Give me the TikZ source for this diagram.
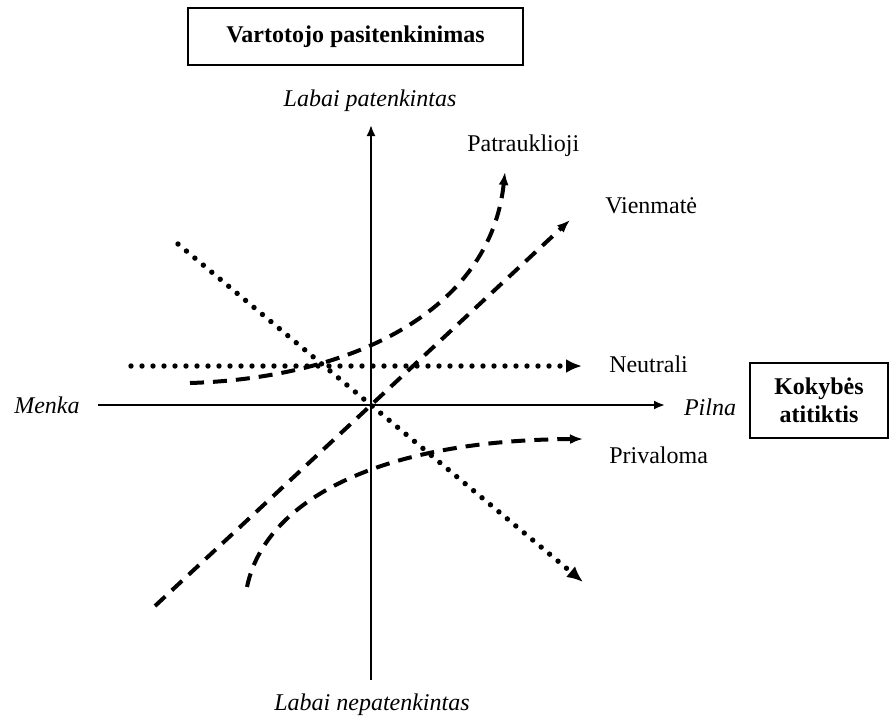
\documentclass[tikz,border=0pt]{standalone}
\usepackage{fontspec}
\setmainfont{Liberation Serif}
\usetikzlibrary{arrows.meta}

\tikzset{every picture/.style={line width=0.75pt}}
\tikzset{
  txt/.style={inner sep=0.75pt, font=\fontsize{12}{14}\selectfont},
  lbl/.style={inner sep=0.75pt, font=\fontsize{12}{14}\selectfont\itshape},
  titlebox/.style={draw, line width=1.4pt, align=center, font=\fontsize{12}{14}\selectfont\bfseries},
  axis/.style={line width=1pt, -{Latex[length=5.5pt,width=4.5pt]}},
  dashcurve/.style={line width=2pt, dash pattern=on 7pt off 4.5pt, -{Latex[length=6.5pt,width=5pt]}},
  dotcurve/.style={line width=2.7pt, line cap=round, dash pattern=on 0pt off 5.5pt, -{Latex[length=8pt,width=7pt]}},
}

\begin{document}
\begin{tikzpicture}[x=0.5pt,y=0.5pt,yscale=-1,xscale=1]
	\useasboundingbox (0,0) rectangle (891,720);

	%Shape: Axis 2D
	\coordinate (O) at (371,405);
	\coordinate (xl) at (98,405);
	\coordinate (xr) at (665,405);
	\coordinate (yb) at (371,680);
	\coordinate (yt) at (371,125);
	\draw[axis] (xl) -- (xr);
	\draw[axis] (yb) -- (yt);

	%Shape: Boxes
	\node[titlebox, minimum width=167.5pt, minimum height=28.5pt] (satisf) at (355.5,36.5) {Vartotojo pasitenkinimas};
	\node[titlebox, minimum width=69pt, minimum height=37.5pt] (quality) at (819,400.5) {Kokybės\\atitiktis};

	% Text Node
	\node[lbl] (high) at (370,101) {Labai patenkintas};
	% Text Node
	\node[lbl] (low) at (372,705) {Labai nepatenkintas};
	% Text Node
	\node[lbl] (poor) at (47,405) {Menka};
	% Text Node
	\node[lbl] (full) at (710,407) {Pilna};
	% Text Node
	\node[txt, anchor=west] (attr) at (465,146) {Patrauklioji};
	% Text Node
	\node[txt, anchor=west] (onedim) at (603,206) {Vienmatė};
	% Text Node
	\node[txt, anchor=west] (neut) at (607,364) {Neutrali};
	% Text Node
	\node[txt, anchor=west] (must) at (607,455) {Privaloma};

	%Curves
	\coordinate (a0) at (190,383);
	\coordinate (a1) at (505,172);
	\coordinate (v0) at (155,606);
	\coordinate (v1) at (570,220);
	\coordinate (m0) at (247,587);
	\coordinate (m1) at (583,439);
	\coordinate (n0) at (131,366);
	\coordinate (n1) at (582,366);
	\coordinate (r0) at (178,244);
	\coordinate (r1) at (583,582);
	\draw[dashcurve] (a0) .. controls (350,378) and (490,312) .. (a1);
	\draw[dashcurve] (v0) -- (v1);
	\draw[dashcurve] (m0) .. controls (265,500) and (380,440) .. (m1);
	\draw[dotcurve] (n0) -- (n1);
	\draw[dotcurve] (r0) -- (r1);

\end{tikzpicture}
\end{document}
